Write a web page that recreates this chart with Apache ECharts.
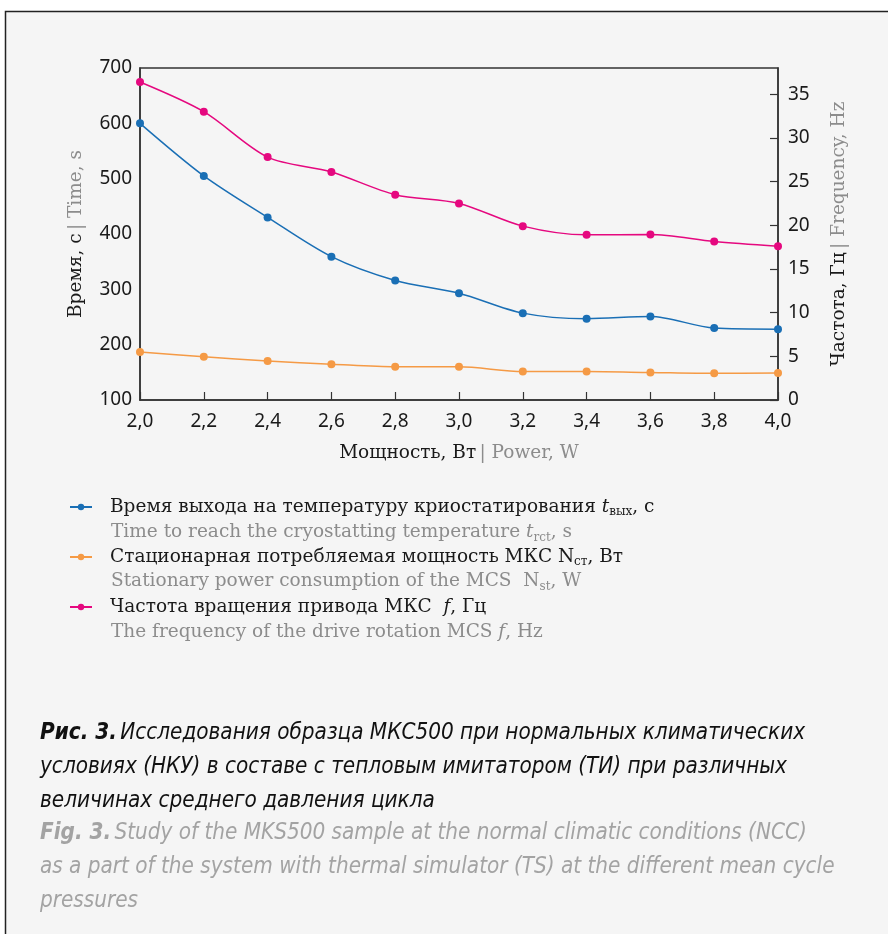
<!DOCTYPE html>
<html><head><meta charset="utf-8">
<script src="https://cdn.jsdelivr.net/npm/echarts@6/dist/echarts.min.js"></script>
<style>html,body{margin:0;padding:0;background:#fff}#c{width:888px;height:934px}</style>
</head><body><div id="c"></div>
<script>
const powerW = [2.0, 2.2, 2.4, 2.6, 2.8, 3.0, 3.2, 3.4, 3.6, 3.8, 4.0];
const timeS = [600, 505, 430, 359, 316, 293, 257, 247, 251, 230, 228];
const powerNst = [5.5, 4.95, 4.45, 4.1, 3.8, 3.8, 3.25, 3.25, 3.15, 3.05, 3.1];
const freqHz = [36.4, 33.0, 27.8, 26.1, 23.5, 22.5, 19.9, 18.9, 18.95, 18.15, 17.6];
const seriesNames = ['time', 'power', 'freq'];
const colors = ['#1a6fb5', '#f59a45', '#e5087f'];

const SERIF = '"DejaVu Serif", serif';
const SANS = '"Noto Sans", sans-serif';
const CAP = '"Liberation Sans Narrow", "DejaVu Sans Condensed", "Noto Sans", sans-serif';
const GRAY = '#8c8c8c';
const FS = 18.5;

const pairs = (ys) => powerW.map((x, i) => [x, ys[i]]);
const fmt = (v) => v.toFixed(1).replace('.', ',');

const legendRu = {
  time: '{n|Время выхода на температуру криостатирования }{it|t}{sub|вых}{n|, с}',
  power: '{n|Стационарная потребляемая мощность МКС N}{sub|ст}{n|, Вт}',
  freq: '{n|Частота вращения привода МКС  }{it|f}{n|, Гц}'
};
const legendEn = [
  '{g|Time to reach the cryostatting temperature }{git|t}{gsub|rct}{g|, s}',
  '{g|Stationary power consumption of the MCS  N}{gsub|st}{g|, W}',
  '{g|The frequency of the drive rotation MCS }{git|f}{g|, Hz}'
];

// echarts text styles (color)
const richBase = {
  n: {fontFamily: SERIF, fontSize: FS, color: '#1a1a1a', lineHeight: 22},
  it: {fontFamily: SERIF, fontSize: FS, fontStyle: 'italic', color: '#1a1a1a', lineHeight: 22},
  sub: {fontFamily: SERIF, fontSize: 12, color: '#1a1a1a', lineHeight: 22, verticalAlign: 'bottom'},
  g: {fontFamily: SERIF, fontSize: FS, color: GRAY, lineHeight: 22},
  git: {fontFamily: SERIF, fontSize: FS, fontStyle: 'italic', color: GRAY, lineHeight: 22},
  gsub: {fontFamily: SERIF, fontSize: 12, color: GRAY, lineHeight: 22, verticalAlign: 'bottom'}
};
// zrender graphic styles (fill)
const richGfx = {
  g: {fontFamily: SERIF, fontSize: FS, fill: GRAY, lineHeight: 22},
  git: {fontFamily: SERIF, fontSize: FS, fontStyle: 'italic', fill: GRAY, lineHeight: 22},
  gsub: {fontFamily: SERIF, fontSize: 12, fill: GRAY, lineHeight: 22, verticalAlign: 'bottom'}
};
const CFS = 22.3;
const capRich = (c) => ({
  b: {fontFamily: CAP, fontSize: CFS, fontStyle: 'italic', fontWeight: 'bold', fill: c, lineHeight: 34},
  i: {fontFamily: CAP, fontSize: CFS, fontStyle: 'italic', fill: c, lineHeight: 34}
});

const chart = echarts.init(document.getElementById('c'), null, {renderer: 'canvas'});
chart.setOption({
  backgroundColor: '#ffffff',
  animation: false,
  color: colors,
  graphic: [
    {type: 'rect', z: -10, silent: true, shape: {x: 5.5, y: 11.5, width: 900, height: 1000},
     style: {fill: '#f5f5f5', stroke: '#222', lineWidth: 1.5}},
    {type: 'text', left: 111, top: 523, style: {text: legendEn[0], rich: richGfx}},
    {type: 'text', left: 111, top: 572, style: {text: legendEn[1], rich: richGfx}},
    {type: 'text', left: 111, top: 623, style: {text: legendEn[2], rich: richGfx}},
    {type: 'text', left: 40, top: 722, style: {
      text: '{b|Рис. 3.} {i|Исследования образца МКС500 при нормальных климатических}\n{i|условиях (НКУ) в составе с тепловым имитатором (ТИ) при различных}\n{i|величинах среднего давления цикла}',
      rich: capRich('#111')}},
    {type: 'text', left: 40, top: 822, style: {
      text: '{b|Fig. 3.} {i|Study of the MKS500 sample at the normal climatic conditions (NCC)}\n{i|as a part of the system with thermal simulator (TS) at the different mean cycle}\n{i|pressures}',
      rich: capRich('#a3a3a3')}}
  ],
  legend: {
    data: seriesNames,
    orient: 'vertical',
    left: 64, top: 491,
    itemWidth: 22, itemHeight: 8, itemGap: 28,
    formatter: (name) => legendRu[name],
    textStyle: {fontFamily: SERIF, fontSize: FS, color: '#1a1a1a', lineHeight: 22, padding: [0, 0, 0, 13], rich: richBase}
  },
  grid: {left: 140, right: 110, top: 68, bottom: 534, show: true, borderColor: '#333', borderWidth: 1.5, backgroundColor: 'transparent'},
  xAxis: {
    type: 'value', min: 2.0, max: 4.0, interval: 0.2,
    name: '{n|Мощность, Вт} {g|| Power, W}',
    nameLocation: 'middle', nameGap: 42,
    nameTextStyle: {rich: richBase},
    axisLine: {lineStyle: {color: '#333', width: 1.5}},
    axisTick: {inside: true, length: 8, lineStyle: {color: '#333', width: 1.2}},
    splitLine: {show: false},
    axisLabel: {formatter: fmt, fontFamily: SANS, fontSize: 19, color: '#1a1a1a', margin: 12}
  },
  yAxis: [
    {type: 'value', min: 100, max: 700, interval: 100, position: 'left',
     name: '{n|Время, с} {g|| Time, s}',
     nameLocation: 'middle', nameGap: 53,
     nameTextStyle: {rich: richBase},
     axisLine: {show: true, lineStyle: {color: '#333', width: 1.5}},
     axisTick: {show: false}, splitLine: {show: false},
     axisLabel: {fontFamily: SANS, fontSize: 19, color: '#1a1a1a', margin: 8}},
    {type: 'value', min: 0, max: 38, interval: 5, position: 'right',
     name: '{n|Частота, Гц} {g|| Frequency, Hz}',
     nameLocation: 'middle', nameGap: 50,
     nameTextStyle: {rich: richBase},
     axisLine: {show: true, lineStyle: {color: '#333', width: 1.5}},
     axisTick: {show: true, inside: true, length: 8, lineStyle: {color: '#333', width: 1.2}},
     splitLine: {show: false},
     axisLabel: {showMaxLabel: false, fontFamily: SANS, fontSize: 19, color: '#1a1a1a', margin: 10}}
  ],
  series: [
    {name: 'time', type: 'line', yAxisIndex: 0, data: pairs(timeS), smooth: 0.3, symbol: 'circle', symbolSize: 8, lineStyle: {width: 1.5}},
    {name: 'power', type: 'line', yAxisIndex: 1, data: pairs(powerNst), smooth: 0.3, symbol: 'circle', symbolSize: 8, lineStyle: {width: 1.5}},
    {name: 'freq', type: 'line', yAxisIndex: 1, data: pairs(freqHz), smooth: 0.3, symbol: 'circle', symbolSize: 8, lineStyle: {width: 1.5}}
  ]
});
</script></body></html>
